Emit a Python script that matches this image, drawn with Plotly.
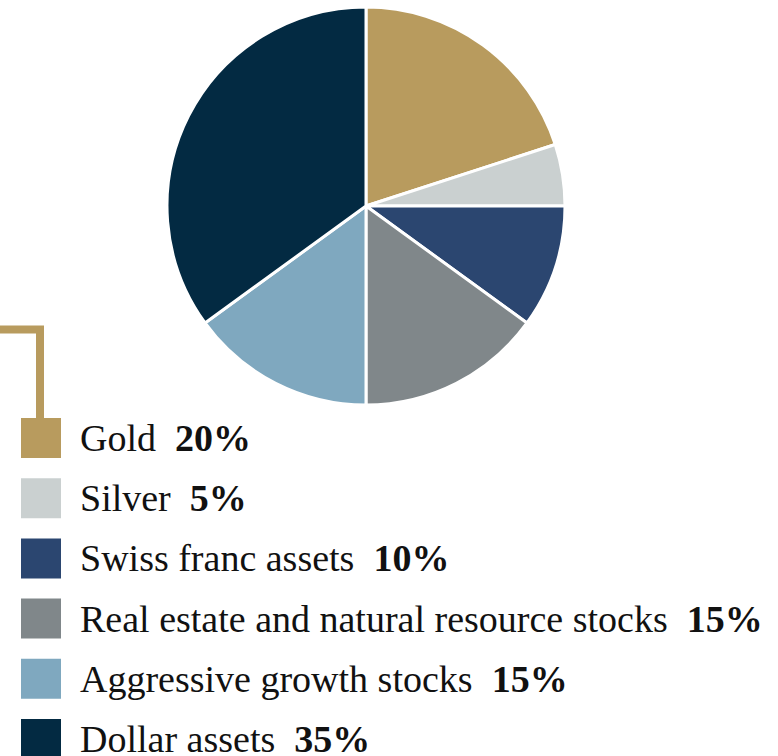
import plotly.graph_objects as go

# Portfolio allocation
labels = ["Gold", "Silver", "Swiss franc assets",
          "Real estate and natural resource stocks",
          "Aggressive growth stocks", "Dollar assets"]
shares = [20, 5, 10, 15, 15, 35]
colors = ["#B89B5E", "#CAD0D0", "#2B4670", "#80878A", "#7FA8BF", "#032A42"]

W, H = 778, 756
FONT = "'Liberation Serif', 'Times New Roman', serif"

fig = go.Figure()

fig.add_trace(go.Pie(
    labels=labels,
    values=shares,
    sort=False,
    direction="clockwise",
    rotation=0,
    marker=dict(colors=colors, line=dict(color="white", width=3)),
    textinfo="none",
    hoverinfo="label+percent",
    showlegend=False,
    domain=dict(x=[167 / W, 565 / W], y=[1 - 405 / H, 1 - 7 / H]),
))

# Custom legend drawn in pixel space on a hidden axis
row0, step, sw = 418, 60.2, 40
shapes = []
annotations = []
for i, (lab, val, col) in enumerate(zip(labels, shares, colors)):
    top = row0 + i * step
    shapes.append(dict(type="rect", xref="x", yref="y",
                       x0=21, x1=21 + sw, y0=top, y1=top + sw,
                       fillcolor=col, line=dict(width=0)))
    annotations.append(dict(
        xref="x", yref="y", x=78, y=top + sw / 2,
        xanchor="left", yanchor="middle", showarrow=False,
        text=f"{lab}\u00a0 <b>{val}%</b>",
        font=dict(family=FONT, size=38, color="#111111"),
    ))

# Bracket connecting the chart to the legend
shapes.append(dict(type="path", xref="x", yref="y",
                   path=f"M 0 329.5 L 40 329.5 L 40 {row0}",
                   line=dict(color="#B89B5E", width=8)))

fig.update_layout(
    width=W, height=H,
    margin=dict(l=0, r=0, t=0, b=0),
    paper_bgcolor="white", plot_bgcolor="white",
    xaxis=dict(range=[0, W], visible=False, fixedrange=True),
    yaxis=dict(range=[H, 0], visible=False, fixedrange=True),
    shapes=shapes,
    annotations=annotations,
    showlegend=False,
)

fig.write_html("out.html")
